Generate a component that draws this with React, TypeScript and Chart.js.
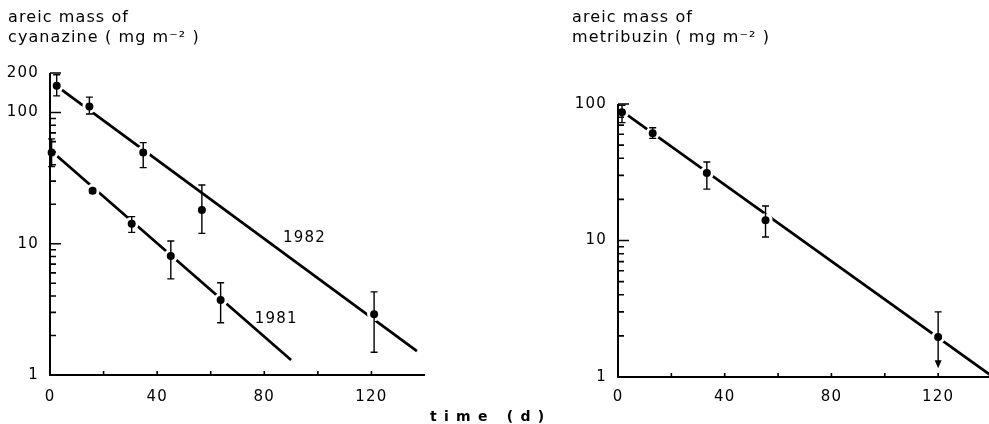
import React, { useEffect, useRef } from 'react';
import { Chart, registerables } from 'chart.js';

Chart.register(...registerables);

const FONT = '"DejaVu Sans", sans-serif';

// ---- Left panel: cyanazine ----
const cyan1982Days = [2.5, 14.7, 34.8, 56.7, 121];
const cyan1982Mass = [160, 111, 49.5, 18.1, 2.9];
const cyan1982Hi = [194, 131, 59, 28, 4.3];
const cyan1982Lo = [134, 97.5, 38, 12, 1.49];

const cyan1981Days = [0.6, 15.9, 30.5, 45.1, 63.7];
const cyan1981Mass = [49.5, 25.3, 14.2, 8.07, 3.73];
const cyan1981Hi = [63, 26.3, 16.1, 10.5, 5.05];
const cyan1981Lo = [38.7, 24.3, 12.2, 5.4, 2.5];

const fit1982Days = [2.5, 137];
const fit1982Mass = [159, 1.52];
const fit1981Days = [0.6, 90];
const fit1981Mass = [50.6, 1.3];

const lineLabels = ['1982', '1981'];
const lineLabelDays = [95, 84.5];
const lineLabelMass = [11.1, 2.67];

// ---- Right panel: metribuzin ----
const metDays = [1.5, 13, 33.3, 55.3, 120];
const metMass = [87, 61, 31.2, 14.1, 1.96];
const metHi = [98, 67, 37.6, 17.9, 3.0];
const metLo = [73, 56, 23.8, 10.6, 1.16];
const metLoIsLimit = [false, false, false, false, true];

const fitMetDays = [0, 140];
const fitMetMass = [93, 1.02];

// ---- Axes ----
const xLabelTicks = [0, 40, 80, 120];
const xTickMarks = [20, 40, 60, 80, 100, 120];
const leftYLabelTicks = [1, 10, 100, 200];
const rightYLabelTicks = [1, 10, 100];
const yMajorMarks = [10, 100, 200];
const yMinorMarks = [2, 3, 4, 5, 6, 7, 8, 9, 20, 30, 40, 50, 60, 70, 80, 90];

const leftTitle = ['areic mass of', 'cyanazine ( mg m\u207B\u00B2 )'];
const rightTitle = ['areic mass of', 'metribuzin ( mg m\u207B\u00B2 )'];
const xTitle = 't i m e   ( d )';

const pts = (xs: number[], ys: number[]) => xs.map((x, i) => ({ x, y: ys[i] }));

type ErrSet = { days: number[]; hi: number[]; lo: number[]; loLimit?: boolean[] };

type PanelCfg = {
  title: string[];
  titleX: number;
  errs: ErrSet[];
  yMax: number;
  labels?: { text: string[]; days: number[]; mass: number[] };
  xTitle?: { text: string; x: number; y: number };
};

function decorPlugin(cfg: PanelCfg) {
  return {
    id: 'decor',
    beforeDraw(chart: any) {
      chart.ctx.letterSpacing = '1.2px';
    },
    afterDatasetsDraw(chart: any) {
      const ctx = chart.ctx;
      const xs = chart.scales.x;
      const ys = chart.scales.y;
      const a = chart.chartArea;
      ctx.save();
      ctx.strokeStyle = '#000';
      ctx.fillStyle = '#000';
      ctx.lineCap = 'butt';
      ctx.lineWidth = 2;
      ctx.beginPath();
      ctx.moveTo(a.left, ys.getPixelForValue(cfg.yMax));
      ctx.lineTo(a.left, a.bottom);
      ctx.lineTo(a.right, a.bottom);
      ctx.stroke();
      ctx.lineWidth = 1.6;
      ctx.beginPath();
      xTickMarks.forEach((v) => {
        const px = xs.getPixelForValue(v);
        ctx.moveTo(px, a.bottom);
        ctx.lineTo(px, a.bottom - 4);
      });
      yMajorMarks.filter((v) => v <= cfg.yMax).forEach((v) => {
        const py = ys.getPixelForValue(v);
        ctx.moveTo(a.left, py);
        ctx.lineTo(a.left + 11, py);
      });
      yMinorMarks.filter((v) => v <= cfg.yMax).forEach((v) => {
        const py = ys.getPixelForValue(v);
        ctx.moveTo(a.left, py);
        ctx.lineTo(a.left + 6, py);
      });
      ctx.stroke();
      ctx.lineWidth = 1.4;
      cfg.errs.forEach((e) => {
        e.days.forEach((d, i) => {
          const px = xs.getPixelForValue(d);
          const pHi = ys.getPixelForValue(e.hi[i]);
          const pLo = ys.getPixelForValue(e.lo[i]);
          const lim = !!(e.loLimit && e.loLimit[i]);
          ctx.beginPath();
          ctx.moveTo(px, pHi);
          ctx.lineTo(px, lim ? pLo - 6 : pLo);
          ctx.moveTo(px - 3.5, pHi);
          ctx.lineTo(px + 3.5, pHi);
          if (!lim) {
            ctx.moveTo(px - 3.5, pLo);
            ctx.lineTo(px + 3.5, pLo);
          }
          ctx.stroke();
          if (lim) {
            ctx.beginPath();
            ctx.moveTo(px - 3.5, pLo - 8);
            ctx.lineTo(px + 3.5, pLo - 8);
            ctx.lineTo(px, pLo);
            ctx.closePath();
            ctx.fill();
          }
        });
      });
      ctx.restore();
    },
    afterDraw(chart: any) {
      const ctx = chart.ctx;
      const xs = chart.scales.x;
      const ys = chart.scales.y;
      ctx.save();
      ctx.fillStyle = '#000';
      ctx.letterSpacing = '1.1px';
      ctx.font = `16px ${FONT}`;
      ctx.textAlign = 'left';
      ctx.textBaseline = 'alphabetic';
      cfg.title.forEach((t, i) => ctx.fillText(t, cfg.titleX, 22 + i * 20));
      if (cfg.labels) {
        ctx.font = `15px ${FONT}`;
        ctx.letterSpacing = '1.2px';
        ctx.textAlign = 'center';
        ctx.textBaseline = 'middle';
        cfg.labels.text.forEach((t, i) => {
          ctx.fillText(t, xs.getPixelForValue(cfg.labels!.days[i]), ys.getPixelForValue(cfg.labels!.mass[i]));
        });
      }
      if (cfg.xTitle) {
        ctx.font = `bold 14px ${FONT}`;
        ctx.letterSpacing = '1.2px';
        ctx.textAlign = 'left';
        ctx.textBaseline = 'alphabetic';
        ctx.fillText(cfg.xTitle.text, cfg.xTitle.x, cfg.xTitle.y);
      }
      ctx.restore();
    },
  };
}

const lineDs = (xs: number[], ys: number[]) => ({
  type: 'line' as const,
  data: pts(xs, ys),
  showLine: true,
  borderColor: '#000',
  borderWidth: 2.7,
  pointRadius: 0,
  fill: false,
  order: 5,
});

const pointDs = (xs: number[], ys: number[]) => ({
  type: 'scatter' as const,
  data: pts(xs, ys),
  showLine: false,
  pointRadius: 5.5,
  pointBackgroundColor: '#000',
  pointBorderColor: '#fff',
  pointBorderWidth: 3,
  order: 1,
  clip: false as const,
});

function makeOptions(opts: {
  yMax: number;
  yTicks: number[];
  yWidth: number;
  xHeight: number;
  top: number;
  right: number;
  xPad: number;
}) {
  return {
    responsive: false,
    animation: false as const,
    devicePixelRatio: 1,
    layout: { padding: { top: opts.top, left: 0, right: opts.right, bottom: 0 } },
    plugins: { legend: { display: false }, tooltip: { enabled: false }, title: { display: false } },
    scales: {
      x: {
        type: 'linear' as const,
        min: 0,
        max: 140,
        afterBuildTicks: (s: any) => {
          s.ticks = xLabelTicks.map((v) => ({ value: v }));
        },
        afterFit: (s: any) => {
          s.height = opts.xHeight;
        },
        ticks: {
          callback: (v: any) => String(v),
          font: { family: FONT, size: 15 },
          color: '#000',
          padding: opts.xPad,
          maxRotation: 0,
          autoSkip: false,
        },
        grid: { display: false, drawTicks: false },
        border: { display: false },
      },
      y: {
        type: 'logarithmic' as const,
        min: 1,
        max: opts.yMax,
        afterBuildTicks: (s: any) => {
          s.ticks = opts.yTicks.map((v) => ({ value: v }));
        },
        afterFit: (s: any) => {
          s.width = opts.yWidth;
        },
        ticks: {
          callback: (v: any) => String(v),
          font: { family: FONT, size: 15 },
          color: '#000',
          padding: 11,
          autoSkip: false,
        },
        grid: { display: false, drawTicks: false },
        border: { display: false },
      },
    },
  };
}

function LeftPanel() {
  const ref = useRef<HTMLCanvasElement>(null);
  useEffect(() => {
    const chart = new Chart(ref.current!, {
      type: 'scatter',
      data: {
        datasets: [
          lineDs(fit1982Days, fit1982Mass),
          lineDs(fit1981Days, fit1981Mass),
          pointDs(cyan1982Days, cyan1982Mass),
          pointDs(cyan1981Days, cyan1981Mass),
        ] as any,
      },
      options: makeOptions({ yMax: 200, yTicks: leftYLabelTicks, yWidth: 50, xHeight: 49, top: 73, right: 145, xPad: 13 }) as any,
      plugins: [
        decorPlugin({
          title: leftTitle,
          titleX: 8,
          yMax: 200,
          errs: [
            { days: cyan1982Days, hi: cyan1982Hi, lo: cyan1982Lo },
            { days: cyan1981Days, hi: cyan1981Hi, lo: cyan1981Lo },
          ],
          labels: { text: lineLabels, days: lineLabelDays, mass: lineLabelMass },
          xTitle: { text: xTitle, x: 430, y: 421 },
        }),
      ],
    });
    return () => chart.destroy();
  }, []);
  return (
    <canvas
      ref={ref}
      width={570}
      height={424}
      style={{ position: 'absolute', left: 0, top: 0, width: 570, height: 424 }}
    />
  );
}

function RightPanel() {
  const ref = useRef<HTMLCanvasElement>(null);
  useEffect(() => {
    const chart = new Chart(ref.current!, {
      type: 'scatter',
      data: {
        datasets: [lineDs(fitMetDays, fitMetMass), pointDs(metDays, metMass)] as any,
      },
      options: makeOptions({ yMax: 100, yTicks: rightYLabelTicks, yWidth: 48, xHeight: 47, top: 104, right: 7.5, xPad: 11 }) as any,
      plugins: [
        decorPlugin({
          title: rightTitle,
          titleX: 2,
          yMax: 100,
          errs: [{ days: metDays, hi: metHi, lo: metLo, loLimit: metLoIsLimit }],
        }),
      ],
    });
    return () => chart.destroy();
  }, []);
  return (
    <canvas
      ref={ref}
      width={430}
      height={424}
      style={{ position: 'absolute', left: 570, top: 0, width: 430, height: 424 }}
    />
  );
}

export default function App() {
  return (
    <div style={{ width: 973, height: 408 }}>
      <div
        style={{
          position: 'fixed',
          left: 0,
          top: 0,
          width: 989,
          height: 424,
          overflow: 'hidden',
          background: '#fff',
        }}
      >
        <LeftPanel />
        <RightPanel />
      </div>
    </div>
  );
}
